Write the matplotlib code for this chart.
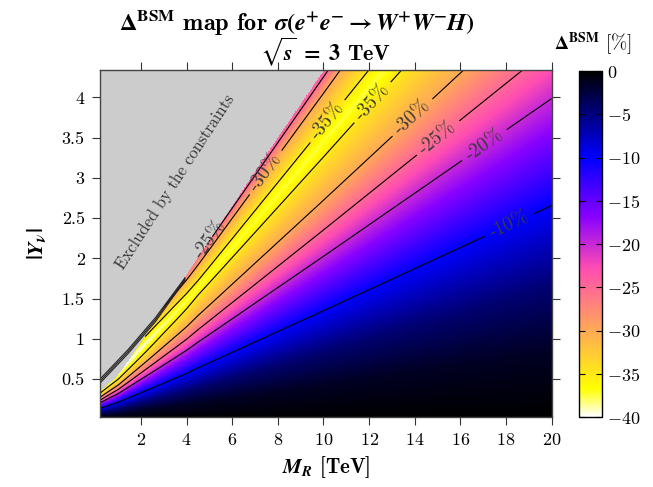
import numpy as np
import matplotlib
matplotlib.use("Agg")
import matplotlib.pyplot as plt

plt.rcParams['font.family'] = 'serif'
plt.rcParams['font.serif'] = ['cmr10', 'DejaVu Serif']
plt.rcParams['mathtext.fontset'] = 'cm'
plt.rcParams['axes.formatter.use_mathtext'] = True

# ---- data ----
# scale of the ratio variable u = |Y| / s(M_R)
scale_MR = [0.2, 1.0, 2.0, 3.0, 4.0, 5.0, 10.0, 20.0]
scale_s = [1.10, 1.75, 2.70, 3.60, 4.50, 5.50, 10.55, 20.75]
# Delta^BSM [%] versus u
u_knots = [0.0, 0.04, 0.08, 0.128, 0.192, 0.223, 0.258, 0.309, 0.327, 0.345, 0.384, 0.403, 0.43]
delta_knots = [0.0, -1.4, -4.5, -10.0, -20.0, -25.0, -30.0, -35.0, -37.5, -35.0, -30.0, -25.0, -21.0]
# deeper minimum at low M_R
depth_MR = [0.2, 1.0, 2.0, 3.0, 4.5, 20.0]
depth_fac = [1.04, 1.07, 1.06, 1.03, 1.0, 1.0]
# exclusion boundary (upper edge of the allowed region)
bound_MR = [0.2, 1.0, 2.0, 3.0, 4.0, 6.0, 8.0, 10.1, 20.0]
bound_Y = [0.34, 0.55, 0.95, 1.40, 1.80, 2.65, 3.50, 4.37, 8.5]
# thin lines inside the excluded region
excl_MR = [0.2, 1.44, 2.62, 3.93]
excl_Y1 = [0.45, 0.82, 1.21, 1.73]
excl_Y2 = [0.475, 0.845, 1.235, 1.745]
excl_Y3 = [0.50, 0.87, 1.26, 1.76]

levels = [-35, -30, -25, -20, -10]
x_ticks = [2, 4, 6, 8, 10, 12, 14, 16, 18, 20]
y_ticks = [0.5, 1, 1.5, 2, 2.5, 3, 3.5, 4]
y_ticklabels = ['0.5', '1', '1.5', '2', '2.5', '3', '3.5', '4']
cbar_ticks = [0, -5, -10, -15, -20, -25, -30, -35, -40]

# label anchor points (M_R, |Y|)
label_pos = [(18.2, 2.38), (17.2, 3.35), (15.1, 3.47), (14.0, 3.72),
             (12.3, 3.9), (10.1, 3.72), (7.67, 3.03), (4.9, 2.27)]

# ---- field ----
M = np.linspace(0.2, 20.0, 700)
Y = np.linspace(0.03, 4.34, 600)
MM, YY = np.meshgrid(M, Y)
S = np.interp(MM, scale_MR, scale_s)
U = YY / S
D = np.interp(U, u_knots, delta_knots) * np.interp(MM, depth_MR, depth_fac)
D = np.clip(D, -40, 0)
mask = YY > np.interp(MM, bound_MR, bound_Y)
Dm = np.ma.array(D, mask=mask)

fig = plt.figure(figsize=(6.53, 4.87), dpi=100)
ax = fig.add_axes([0.1531, 0.1437, 0.6915, 0.7126])
ax.set_facecolor('#cccccc')
pm = ax.pcolormesh(M, Y, Dm, cmap='gnuplot2_r', vmin=-40, vmax=0,
                   shading='auto', rasterized=True)
cs = ax.contour(M, Y, Dm, levels=levels, colors='black', linewidths=0.8,
                linestyles='solid')
lbl = ax.clabel(cs, fmt=lambda v: '%d%%' % v, manual=label_pos,
                inline=True, fontsize=14, inline_spacing=6)
for t in lbl:
    t.set_color('#3a3a3a')

for yy in (excl_Y1, excl_Y2, excl_Y3):
    ax.plot(excl_MR, yy, color='#222222', lw=0.8)

ax.text(3.5, 2.95, 'Excluded by the constraints', rotation=57, fontsize=12,
        color='#333333', ha='center', va='center')

ax.set_xlim(0.2, 20)
ax.set_ylim(0.03, 4.34)
ax.set_xticks(x_ticks)
ax.set_yticks(y_ticks)
ax.set_yticklabels(y_ticklabels)
ax.tick_params(direction='out', length=6, width=0.8, top=True, right=True,
               labelsize=13, colors='#333333', labelcolor='black', pad=5)
for sp in ax.spines.values():
    sp.set_color('#444444')
    sp.set_linewidth(1.0)

ax.set_xlabel(r'$\mathbfit{M_R}$ [TeV]', fontsize=15, fontfamily='cmb10',
              math_fontfamily='stix', labelpad=4)
ax.set_ylabel(r'$\mathbf{|}\mathbfit{Y}_{\boldsymbol{\nu}}\mathbf{|}$', fontsize=16,
              math_fontfamily='stix', labelpad=10)

cax = fig.add_axes([0.8867, 0.1437, 0.0348, 0.7105])
cb = fig.colorbar(pm, cax=cax, ticks=cbar_ticks)
cb.outline.set_linewidth(1.0)
cax.tick_params(direction='in', length=4, width=0.8, left=True, right=True,
                labelsize=13)

fig.text(0.455, 0.953,
         r'$\mathbf{\Delta^{BSM}}$ map for '
         r'$\boldsymbol{\sigma}\mathbf{(}\mathbfit{e}^{\mathbf{+}}\mathbfit{e}^{\mathbf{-}}'
         r'\mathbf{\rightarrow}\mathbfit{W}^{\mathbf{+}}\mathbfit{W}^{\mathbf{-}}\mathbfit{H}\mathbf{)}$',
         ha='center', va='center', fontsize=17.5, fontfamily='cmb10',
         math_fontfamily='stix')
fig.text(0.499, 0.895, r'$\mathbf{\sqrt{\mathbfit{s}}\ =\ 3}$ TeV', ha='center',
         va='center', fontsize=16, fontfamily='cmb10', math_fontfamily='stix')
fig.text(0.908, 0.91, r'$\mathbf{\Delta^{BSM}}$ [%]', ha='center', va='center',
         fontsize=14, math_fontfamily='stix')

fig.savefig('out.png', dpi=100)
